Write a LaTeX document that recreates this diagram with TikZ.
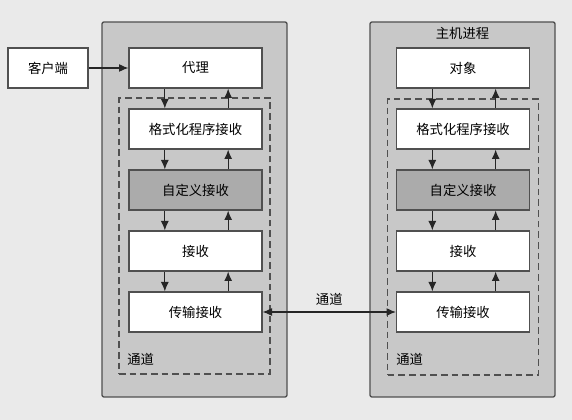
\documentclass[tikz,border=0pt]{standalone}
\usepackage{fontspec}
\setmainfont{Noto Sans CJK SC}
\usetikzlibrary{positioning,arrows.meta}
\definecolor{pagebg}{HTML}{EAEAEA}
\definecolor{outerbg}{HTML}{C8C8C8}
\definecolor{custombg}{HTML}{ABABAB}
\definecolor{edge}{HTML}{505050}

\tikzset{
  stage/.style={rectangle,draw=edge,line width=1pt,fill=white,minimum width=99.75pt,minimum height=30pt,inner sep=0pt},
  custom/.style={stage,fill=custombg},
  process/.style={rectangle,rounded corners=1.5pt,draw=edge,line width=1pt,fill=outerbg,minimum width=138.75pt,minimum height=281.25pt},
  sink/.style={rectangle,draw=edge,line width=0.9pt,dashed,dash pattern=on 5pt off 3pt,minimum width=113.25pt,minimum height=207pt},
  tip/.tip={Latex[length=7pt,width=6pt]},
  flow/.style={-tip,line width=0.8pt,draw=black!85}
}

\begin{document}
\begin{tikzpicture}[x=0.75pt,y=-0.75pt,font=\fontsize{10pt}{12pt}\selectfont,node distance=14.75pt]
\fill[pagebg] (0,0) rectangle (572,420);
\useasboundingbox (0,0) rectangle (572,420);

% process boxes
\node (proc1) [process] at (194.5,209.5) {};
\node (proc2) [process] at (462.5,209.5) {};
\node (chan1) [sink] at (194.5,236) {};
\node (chan2) [sink] at (463,237) {};
\node (host) at (462.5,33) {主机进程};

% client side
\node (client) [stage,minimum width=60pt] at (48,68) {客户端};
\node (proxy) [stage] at (195.5,68) {代理};
\node (fmt1) [stage,below=of proxy] {格式化程序接收};
\node (cus1) [custom,below=of fmt1] {自定义接收};
\node (rcv1) [stage,below=of cus1] {接收};
\node (trn1) [stage,below=of rcv1] {传输接收};
\node (lbl1) [anchor=west,inner sep=0pt] at (127,359) {通道};

% server side
\node (obj) [stage] at (463,68) {对象};
\node (fmt2) [stage,below=of obj] {格式化程序接收};
\node (cus2) [custom,below=of fmt2] {自定义接收};
\node (rcv2) [stage,below=of cus2] {接收};
\node (trn2) [stage,below=of rcv2] {传输接收};
\node (lbl2) [anchor=west,inner sep=0pt] at (396,359) {通道};

\draw[flow] (client) -- (proxy);
\draw[flow,tip-tip] (trn1) -- node (wire) [above=1pt] {通道} (trn2);

\foreach \a/\b in {proxy/fmt1,fmt1/cus1,cus1/rcv1,rcv1/trn1,obj/fmt2,fmt2/cus2,cus2/rcv2,rcv2/trn2} {
  \draw[flow] ([xshift=-23pt]\a.south) -- ([xshift=-23pt]\b.north);
  \draw[flow] ([xshift=24.5pt]\b.north) -- ([xshift=24.5pt]\a.south);
}
\end{tikzpicture}
\end{document}
